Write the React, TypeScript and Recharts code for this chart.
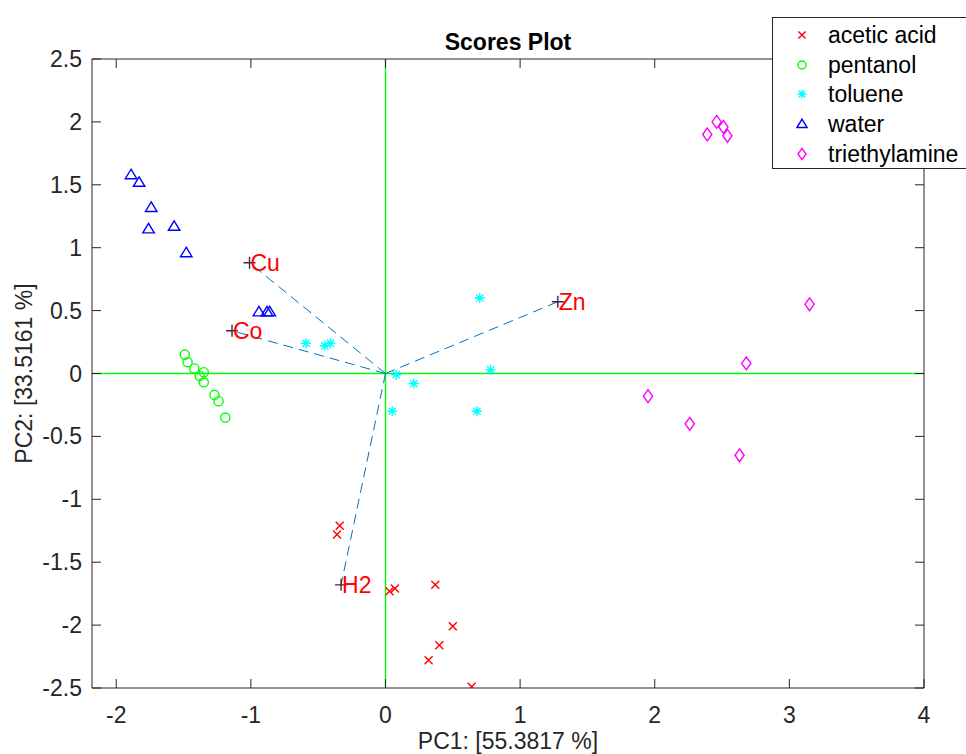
import React from 'react';
import { ScatterChart, Scatter, XAxis, YAxis, ReferenceLine, Label } from 'recharts';

const xTicks = [-2, -1, 0, 1, 2, 3, 4];
const yTicks = [-2.5, -2, -1.5, -1, -0.5, 0, 0.5, 1, 1.5, 2, 2.5];
const xDomain = [-2.18, 4];
const yDomain = [-2.5, 2.5];

const aceticX = [-0.34, -0.36, 0.03, 0.07, 0.37, 0.5, 0.4, 0.32, 0.64];
const aceticY = [-1.21, -1.28, -1.73, -1.71, -1.68, -2.01, -2.16, -2.28, -2.49];
const pentanolX = [-1.49, -1.47, -1.42, -1.38, -1.35, -1.35, -1.27, -1.24, -1.19];
const pentanolY = [0.15, 0.09, 0.04, -0.02, 0.01, -0.07, -0.17, -0.22, -0.35];
const tolueneX = [-0.59, -0.45, -0.41, 0.7, 0.08, 0.21, 0.78, 0.05, 0.68];
const tolueneY = [0.24, 0.22, 0.24, 0.6, -0.01, -0.08, 0.03, -0.3, -0.3];
const waterX = [-1.89, -1.83, -1.74, -1.76, -1.57, -1.48, -0.94, -0.88, -0.86];
const waterY = [1.58, 1.52, 1.32, 1.15, 1.17, 0.96, 0.49, 0.49, 0.49];
const triethylX = [2.46, 2.51, 2.54, 2.39, 3.15, 2.68, 1.95, 2.26, 2.63];
const triethylY = [2.0, 1.96, 1.89, 1.9, 0.55, 0.08, -0.18, -0.4, -0.65];

const loadingNames = ['Cu', 'Co', 'H2', 'Zn'];
const loadingX = [-1.01, -1.14, -0.33, 1.28];
const loadingY = [0.88, 0.34, -1.68, 0.57];

const seriesNames = ['acetic acid', 'pentanol', 'toluene', 'water', 'triethylamine'];
const seriesColors = ['#FF0000', '#00FF00', '#00FFFF', '#0000FF', '#FF00FF'];

const zip = (xs: number[], ys: number[]) => xs.map((x, i) => ({ x, y: ys[i] }));
const aceticData = zip(aceticX, aceticY);
const pentanolData = zip(pentanolX, pentanolY);
const tolueneData = zip(tolueneX, tolueneY);
const waterData = zip(waterX, waterY);
const triethylData = zip(triethylX, triethylY);
const loadingData = loadingNames.map((name, i) => ({ name, x: loadingX[i], y: loadingY[i] }));

const FONT = '"Liberation Sans", Arial, Helvetica, sans-serif';
const AX = '#262626';
const FS = 23;

const markerPath = (kind: string, cx: number, cy: number, s: number) => {
  switch (kind) {
    case 'x':
      return `M${cx - s},${cy - s}L${cx + s},${cy + s}M${cx - s},${cy + s}L${cx + s},${cy - s}`;
    case 'star': {
      const d = s * 0.72;
      return `M${cx - s},${cy}H${cx + s}M${cx},${cy - s}V${cy + s}M${cx - d},${cy - d}L${cx + d},${cy + d}M${cx - d},${cy + d}L${cx + d},${cy - d}`;
    }
    case 'tri':
      return `M${cx},${cy - s * 1.1}L${cx + s * 1.15},${cy + s * 0.8}L${cx - s * 1.15},${cy + s * 0.8}Z`;
    case 'dia':
      return `M${cx},${cy - s * 1.4}L${cx + s},${cy}L${cx},${cy + s * 1.4}L${cx - s},${cy}Z`;
    default:
      return '';
  }
};

const Marker = ({ kind, cx, cy, color, s }: any) => {
  if (kind === 'circle') {
    return <circle cx={cx} cy={cy} r={s} fill="none" stroke={color} strokeWidth={1.4} />;
  }
  return <path d={markerPath(kind, cx, cy, s)} fill="none" stroke={color} strokeWidth={1.4} />;
};

const kinds = ['x', 'circle', 'star', 'tri', 'dia'];
const plotSizes = [4, 4.6, 5, 5, 4.6];
const legendSizes = [3.6, 4, 4.4, 4.4, 4];

const makeShape = (i: number) => (props: any) => (
  <Marker kind={kinds[i]} cx={props.cx} cy={props.cy} color={seriesColors[i]} s={plotSizes[i]} />
);

const LoadingShape = (props: any) => {
  const { cx, cy, payload } = props;
  return (
    <g>
      <path d={`M${cx - 6},${cy}H${cx + 6}M${cx},${cy - 6}V${cy + 6}`} stroke="#4d2246" strokeWidth={1.4} />
      <text x={cx + 1} y={cy} dy="0.36em" fill="#FF0000" fontSize={FS} fontFamily={FONT}>
        {payload.name}
      </text>
    </g>
  );
};

const BottomTick = (p: any) => (
  <g>
    <line x1={p.x} x2={p.x} y1={p.y} y2={p.y - 9} stroke={AX} />
    <text x={p.x} y={p.y + 27} dy="0.35em" textAnchor="middle" fontSize={FS} fill={AX} fontFamily={FONT}>
      {p.payload.value}
    </text>
  </g>
);
const TopTick = (p: any) => <line x1={p.x} x2={p.x} y1={p.y} y2={p.y + 9} stroke={AX} />;
const LeftTick = (p: any) => (
  <g>
    <line x1={p.x} x2={p.x + 9} y1={p.y} y2={p.y} stroke={AX} />
    <text x={p.x - 10} y={p.y} dy="0.35em" textAnchor="end" fontSize={FS} fill={AX} fontFamily={FONT}>
      {p.payload.value}
    </text>
  </g>
);
const RightTick = (p: any) => <line x1={p.x} x2={p.x - 9} y1={p.y} y2={p.y} stroke={AX} />;

const TitleLabel = (p: any) => {
  const vb = p.viewBox;
  return (
    <text x={vb.x + vb.width / 2} y={42} dy="0.35em" textAnchor="middle" fontSize={FS} fontWeight="bold" fill="#000" fontFamily={FONT}>
      Scores Plot
    </text>
  );
};
const XLabel = (p: any) => {
  const vb = p.viewBox;
  return (
    <text x={vb.x + vb.width / 2} y={741} dy="0.35em" textAnchor="middle" fontSize={FS} fill={AX} fontFamily={FONT}>
      PC1: [55.3817 %]
    </text>
  );
};
const YLabel = (p: any) => {
  const vb = p.viewBox;
  const cy = vb.y + vb.height / 2;
  return (
    <text x={24} y={cy} dy="0.35em" textAnchor="middle" fontSize={FS} fill={AX} fontFamily={FONT} transform={`rotate(-90, 24, ${cy})`}>
      PC2: [33.5161 %]
    </text>
  );
};

const LegendBox = () => (
  <div
    style={{
      position: 'absolute',
      left: 772,
      top: 17,
      width: 200,
      height: 152,
      border: `1px solid ${AX}`,
      background: '#fff',
      boxSizing: 'border-box',
    }}
  >
    {seriesNames.map((name, i) => (
      <div key={name} style={{ position: 'absolute', left: 0, top: 3 + i * 29.7, height: 28, width: 200 }}>
        <svg width={40} height={28} style={{ position: 'absolute', left: 9, top: 0 }}>
          <Marker kind={kinds[i]} cx={20} cy={14} color={seriesColors[i]} s={legendSizes[i]} />
        </svg>
        <span
          style={{
            position: 'absolute',
            left: 55,
            top: 0,
            lineHeight: '28px',
            fontSize: FS,
            fontFamily: FONT,
            color: '#000',
            whiteSpace: 'nowrap',
          }}
        >
          {name}
        </span>
      </div>
    ))}
  </div>
);

const seriesData = [aceticData, pentanolData, tolueneData, waterData, triethylData];

export default function App() {
  return (
    <div style={{ position: 'absolute', left: 0, top: 0, width: 966, height: 754, overflow: 'hidden', background: '#fff' }}>
      <ScatterChart width={966} height={754} margin={{ top: 58, right: 41, left: 32, bottom: 26 }}>
        <XAxis
          type="number"
          dataKey="x"
          domain={xDomain}
          ticks={xTicks}
          allowDataOverflow
          interval={0}
          tickSize={0}
          tickMargin={0}
          tickLine={false}
          axisLine={{ stroke: AX }}
          height={40}
          tick={BottomTick}
        >
          <Label content={XLabel} />
        </XAxis>
        <XAxis
          xAxisId="top"
          orientation="top"
          type="number"
          dataKey="x"
          domain={xDomain}
          ticks={xTicks}
          allowDataOverflow
          interval={0}
          tickSize={0}
          tickMargin={0}
          tickLine={false}
          axisLine={{ stroke: AX }}
          height={1}
          tick={TopTick}
        >
          <Label content={TitleLabel} />
        </XAxis>
        <YAxis
          type="number"
          dataKey="y"
          domain={yDomain}
          ticks={yTicks}
          allowDataOverflow
          interval={0}
          tickSize={0}
          tickMargin={0}
          tickLine={false}
          axisLine={{ stroke: AX }}
          width={60}
          tick={LeftTick}
        >
          <Label content={YLabel} />
        </YAxis>
        <YAxis
          yAxisId="right"
          orientation="right"
          type="number"
          dataKey="y"
          domain={yDomain}
          ticks={yTicks}
          allowDataOverflow
          interval={0}
          tickSize={0}
          tickMargin={0}
          tickLine={false}
          axisLine={{ stroke: AX }}
          width={1}
          tick={RightTick}
        />
        <ReferenceLine x={0} stroke="#00FF00" strokeWidth={1.4} />
        <ReferenceLine y={0} stroke="#00FF00" strokeWidth={1.4} />
        {loadingData.map((d) => (
          <ReferenceLine
            key={d.name}
            segment={[{ x: 0, y: 0 }, { x: d.x, y: d.y }]}
            stroke="#0072BD"
            strokeWidth={1}
            strokeDasharray="10 6"
          />
        ))}
        {seriesData.map((data, i) => (
          <Scatter
            key={seriesNames[i]}
            name={seriesNames[i]}
            data={data}
            shape={makeShape(i)}
            isAnimationActive={false}
          />
        ))}
        <Scatter name="loadings" data={loadingData} shape={LoadingShape} isAnimationActive={false} />
      </ScatterChart>
      <LegendBox />
    </div>
  );
}
